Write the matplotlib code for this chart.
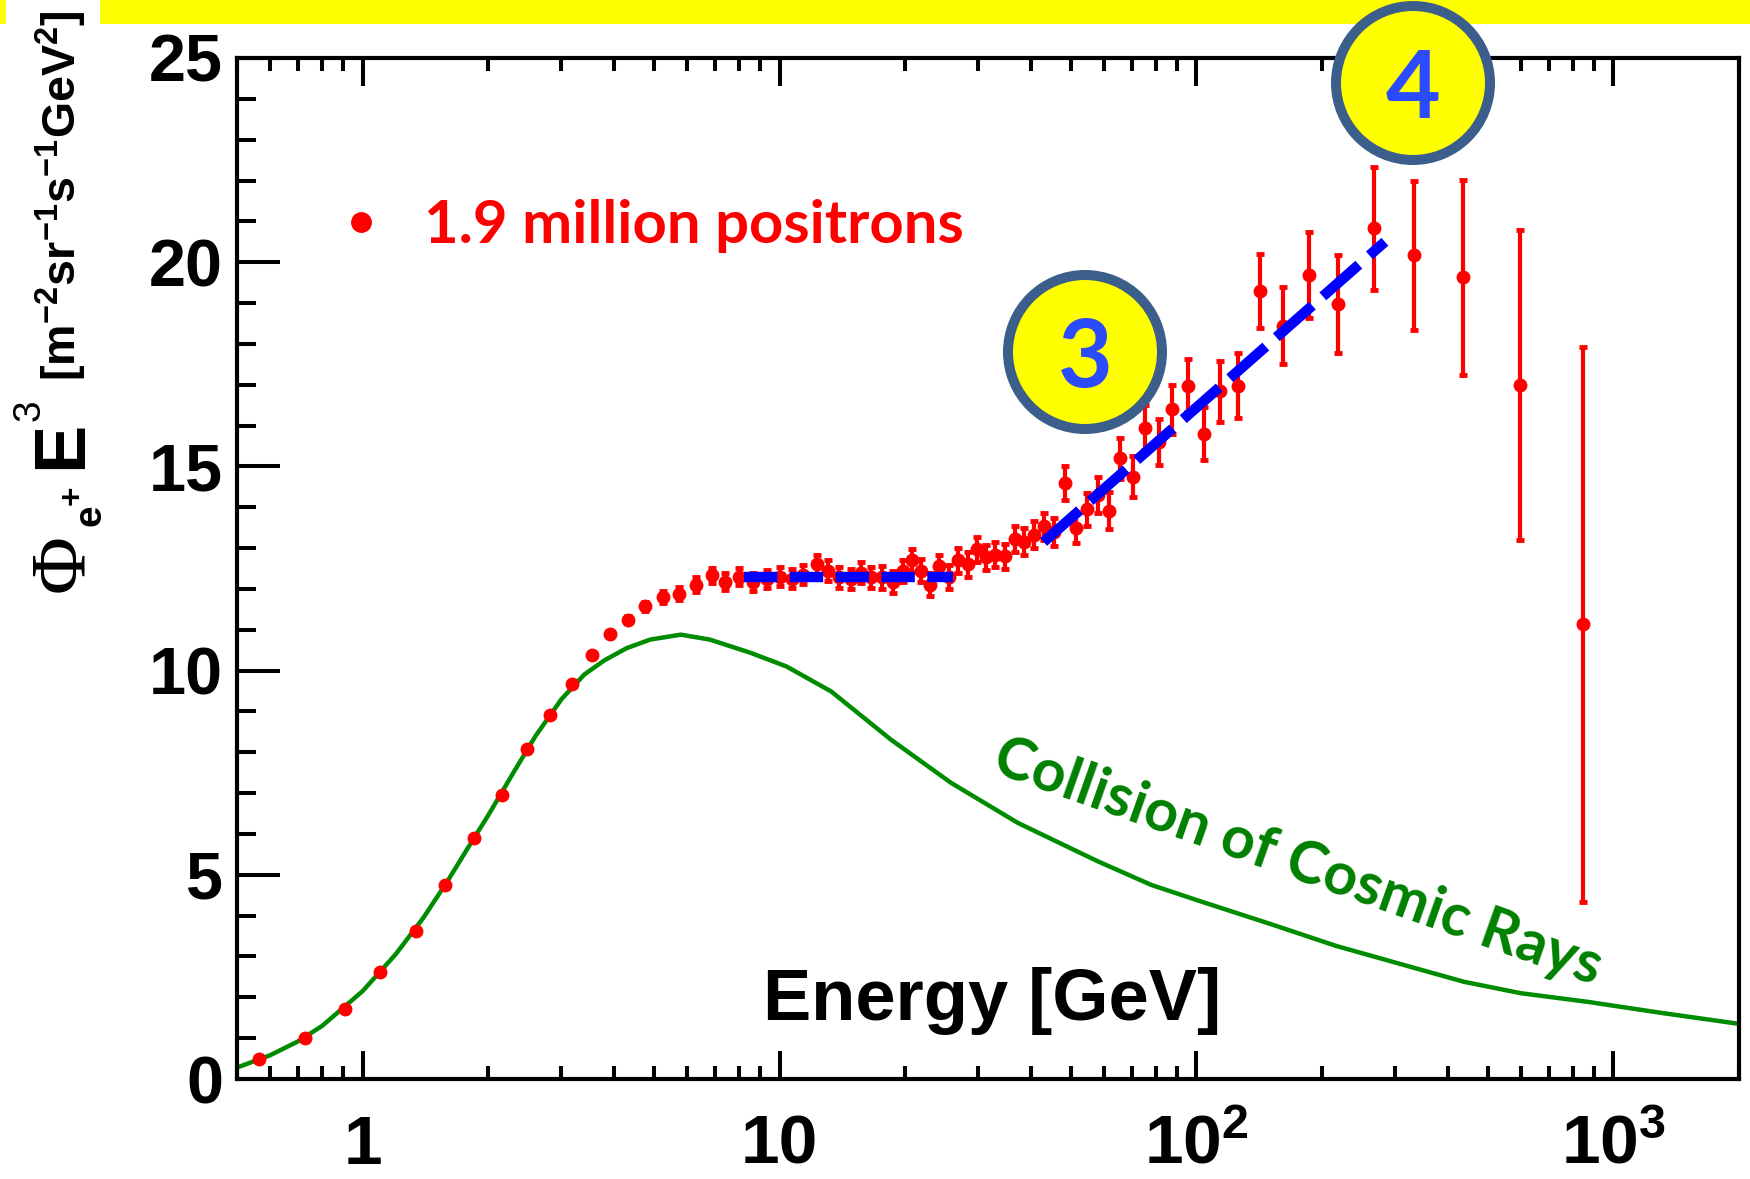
import numpy as np
import matplotlib.pyplot as plt
from matplotlib.lines import Line2D
from matplotlib.patches import Ellipse, Rectangle
from matplotlib.ticker import LogLocator, MultipleLocator, NullFormatter

W, H = 1750, 1179

# positron flux times E^3 per energy bin [GeV], [m^-2 sr^-1 s^-1 GeV^2]
energy = [0.565, 0.726, 0.91, 1.10, 1.34, 1.58, 1.85, 2.16, 2.48, 2.82,
          3.18, 3.55, 3.92, 4.33, 4.76, 5.26, 5.75, 6.31, 6.87, 7.42,
          8.01, 8.66, 9.35, 10.05, 10.7, 11.4, 12.3, 13.1, 13.9, 14.8,
          15.7, 16.6, 17.6, 18.7, 19.8, 20.8, 21.9, 22.9, 24.1, 25.5,
          26.8, 28.3, 29.8, 31.3, 32.9, 34.8, 36.7, 38.6, 40.8, 43.2,
          45.6, 48.4, 51.5, 54.7, 58.1, 61.8, 65.7, 70.6, 75.4, 81.1,
          87.5, 95.5, 104, 114, 126, 142, 161, 186, 219, 266,
          332, 436, 598, 843]
flux = [0.49, 1.00, 1.71, 2.62, 3.63, 4.75, 5.90, 6.96, 8.09, 8.92,
        9.68, 10.37, 10.90, 11.25, 11.57, 11.81, 11.88, 12.10, 12.33, 12.18,
        12.30, 12.18, 12.25, 12.30, 12.25, 12.35, 12.60, 12.45, 12.28, 12.25,
        12.40, 12.28, 12.28, 12.18, 12.43, 12.70, 12.45, 12.10, 12.55, 12.30,
        12.70, 12.60, 12.97, 12.77, 12.84, 12.80, 13.23, 13.16, 13.33, 13.53,
        13.40, 14.60, 13.50, 13.95, 14.30, 13.92, 15.20, 14.75, 15.95, 15.60,
        16.40, 16.98, 15.80, 16.84, 16.98, 19.30, 18.45, 19.68, 18.97, 20.83,
        20.17, 19.63, 17.00, 11.13]
flux_err = [0.02, 0.02, 0.02, 0.03, 0.03, 0.04, 0.04, 0.05, 0.05, 0.05,
            0.06, 0.06, 0.07, 0.08, 0.10, 0.15, 0.16, 0.18, 0.19, 0.20,
            0.21, 0.22, 0.22, 0.23, 0.23, 0.24, 0.24, 0.25, 0.25, 0.25,
            0.26, 0.26, 0.27, 0.27, 0.27, 0.28, 0.28, 0.28, 0.29, 0.29,
            0.30, 0.30, 0.30, 0.31, 0.31, 0.31, 0.32, 0.32, 0.33, 0.33,
            0.34, 0.42, 0.38, 0.40, 0.45, 0.45, 0.50, 0.50, 0.55, 0.57,
            0.60, 0.65, 0.65, 0.75, 0.80, 0.90, 0.95, 1.05, 1.20, 1.50,
            1.82, 2.38, 3.80, 6.80]

# secondary positrons from cosmic-ray collisions
model_energy = [0.5, 0.6, 0.7, 0.8, 1.0, 1.2, 1.4, 1.6, 1.8, 2.0,
                2.3, 2.6, 3.0, 3.4, 3.8, 4.3, 4.9, 5.8, 6.8, 8.5,
                10.4, 13.3, 18.5, 25.8, 37.3, 58.0, 78.0, 103, 150, 216,
                300, 438, 600, 866, 1300, 2000]
model_flux = [0.28, 0.58, 0.92, 1.30, 2.15, 3.05, 3.95, 4.85, 5.70, 6.45,
              7.50, 8.40, 9.30, 9.90, 10.25, 10.55, 10.76, 10.88, 10.76, 10.44,
              10.10, 9.49, 8.31, 7.25, 6.27, 5.33, 4.75, 4.34, 3.80, 3.26,
              2.85, 2.38, 2.10, 1.89, 1.62, 1.35]

# guide lines: plateau and rise
plateau_energy = [8.2, 26.0]
plateau_flux = [12.28, 12.28]
rise_energy = [43.0, 283.0]
rise_flux = [13.15, 20.5]

xticks = [1, 10, 100, 1000]
xtick_labels = ['1', '10', r'$\mathregular{10^{2}}$', r'$\mathregular{10^{3}}$']
yticks = [0, 5, 10, 15, 20, 25]

RED = '#ff0000'
GREEN = '#008c00'
BLUE = '#0000ff'
NARROW = ['Liberation Sans Narrow', 'Liberation Sans']


def fig_xy(x, y):
    """Pixel position (from top-left) to figure fraction."""
    return x / W, 1 - y / H


fig = plt.figure(figsize=(W / 100, H / 100), dpi=100)
left, bottom = fig_xy(237, 1079)
right, top = fig_xy(1739, 58)
ax = fig.add_axes([left, bottom, right - left, top - bottom])

ax.plot(model_energy, model_flux, color=GREEN, lw=3.2, zorder=2)
ax.errorbar(energy, flux, yerr=flux_err, fmt='o', color=RED, ms=9,
            elinewidth=3, capsize=2.8, capthick=3.5, zorder=3)
ax.plot(plateau_energy, plateau_flux, color=BLUE, lw=7.5,
        dashes=(3.2, 1.2), solid_capstyle='butt', dash_capstyle='butt', zorder=4)
ax.plot(rise_energy, rise_flux, color=BLUE, lw=7.5,
        dashes=(4.6, 1.35), solid_capstyle='butt', dash_capstyle='butt', zorder=4)

ax.set_xscale('log')
ax.set_xlim(0.5, 2000)
ax.set_ylim(0, 25)

ax.set_xticks(xticks, xtick_labels, fontsize=50, fontweight='bold', fontfamily=NARROW)
ax.xaxis.set_minor_locator(LogLocator(base=10, subs=np.arange(2, 10), numticks=20))
ax.xaxis.set_minor_formatter(NullFormatter())
ax.set_yticks(yticks, [str(v) for v in yticks], fontsize=48, fontweight='bold',
              fontfamily='Liberation Sans')
ax.yaxis.set_minor_locator(MultipleLocator(1))

ax.tick_params(axis='both', which='both', direction='in', width=2.9, color='black')
ax.tick_params(axis='x', which='major', length=20, pad=25, top=True)
ax.tick_params(axis='x', which='minor', length=9.5, top=True)
ax.tick_params(axis='y', which='major', length=31, pad=10, right=False)
ax.tick_params(axis='y', which='minor', length=14, right=False)
for sp in ax.spines.values():
    sp.set_linewidth(3)

ax.set_xlabel('Energy [GeV]', fontsize=52, fontweight='bold', fontfamily=NARROW)
ax.xaxis.set_label_coords((992 - 237) / 1502, (1079 - 1001) / 1021)
ax.xaxis.label.set_verticalalignment('center')

# legend
handle = Line2D([], [], marker='o', ls='none', color=RED, ms=14)
leg = ax.legend([handle], ['1.9 million positrons'], loc='center left',
                bbox_to_anchor=((331 - 237) / 1502, (1079 - 226) / 1021),
                frameon=False, borderpad=0, borderaxespad=0,
                handlelength=1.0, handletextpad=0.55,
                prop={'family': 'Lato', 'weight': 'bold', 'size': 43})
for t in leg.get_texts():
    t.set_color(RED)

ax.text(*fig_xy(1298, 862), 'Collision of Cosmic Rays', transform=fig.transFigure,
        rotation=-19.5, rotation_mode='anchor', ha='center', va='center',
        color='#008000', fontsize=42.5, fontweight='bold', fontfamily='Lato')

# y-axis title, assembled piece by piece along the rotated baseline
ylabel_parts = [
    ('\u03a6', 82, 592, 57, 'normal', 'Liberation Serif'),
    ('e', 100, 526, 28, 'bold', 'Liberation Sans'),
    ('+', 82, 505, 24, 'bold', 'Liberation Sans'),
    ('E', 81, 469, 52, 'bold', 'Liberation Sans'),
    ('3', 40, 421, 28, 'normal', 'Liberation Sans'),
    (r'[m$\mathregular{^{-2}}$sr$\mathregular{^{-1}}$s$\mathregular{^{-1}}$GeV$\mathregular{^{2}}$]',
     76, 381, 33.5, 'bold', 'Liberation Sans'),
]
for txt, bx, by, size, weight, family in ylabel_parts:
    fig.text(*fig_xy(bx, by), txt, rotation=90, rotation_mode='anchor',
             ha='left', va='baseline', fontsize=size, fontweight=weight,
             fontfamily=family)

# yellow banner along the top edge
fig.add_artist(Rectangle(fig_xy(100, 24), (W - 100) / W, 24 / H,
                         transform=fig.transFigure, facecolor='#ffff00',
                         edgecolor='none', zorder=5))
fig.add_artist(Rectangle(fig_xy(0, 24), 6 / W, 24 / H,
                         transform=fig.transFigure, facecolor='#ffff00',
                         edgecolor='none', zorder=5))

# numbered badges
for label, cx, cy in [('3', 1085, 352), ('4', 1413, 83)]:
    fig.add_artist(Ellipse(fig_xy(cx, cy), 2 * 77 / W, 2 * 77 / H,
                           transform=fig.transFigure, facecolor='#ffff00',
                           edgecolor='#3b5f8a', lw=7.2, zorder=6))
    fig.text(*fig_xy(cx, cy + 35), label, ha='center', va='baseline',
             fontsize=68, fontweight='bold', fontfamily='Lato',
             color='#2b4bff', zorder=7)

fig.savefig('out.png', dpi=100)
